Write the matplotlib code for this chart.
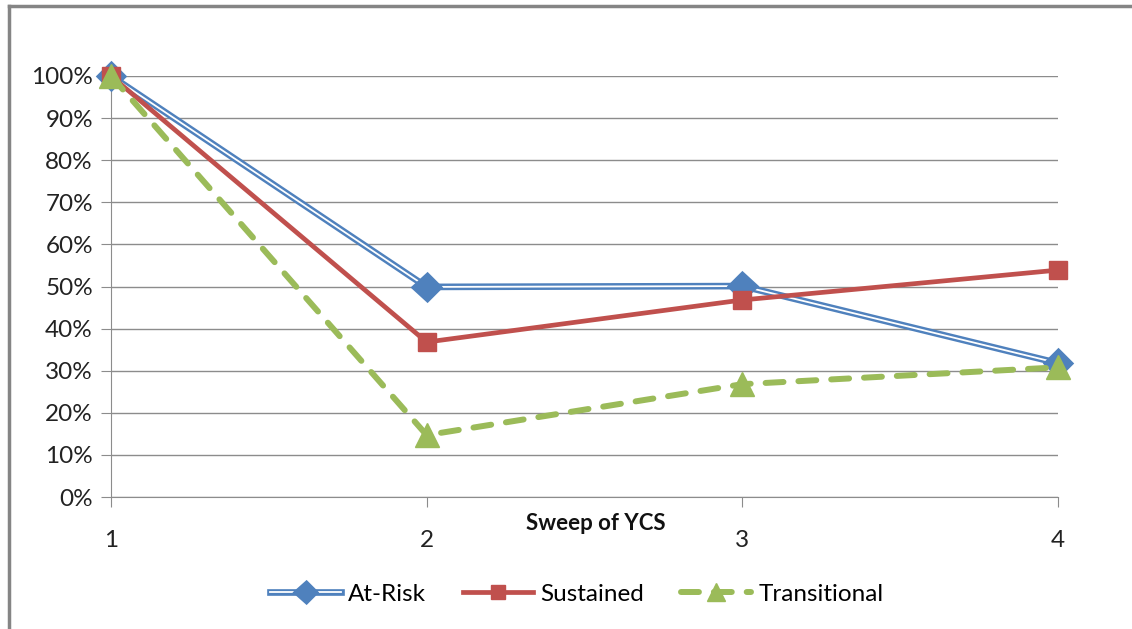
import matplotlib.pyplot as plt
import matplotlib.patheffects as pe
from matplotlib.lines import Line2D
from matplotlib.ticker import PercentFormatter

sweeps = [1, 2, 3, 4]
at_risk = [1.00, 0.499, 0.501, 0.318]
sustained = [1.00, 0.368, 0.468, 0.539]
transitional = [1.00, 0.147, 0.268, 0.308]

blue = '#4F81BD'
red = '#C0504D'
green = '#9BBB59'

plt.rcParams['font.family'] = ['Lato', 'DejaVu Sans']

fig = plt.figure(figsize=(11.32, 6.29), dpi=100)
ax = fig.add_axes([111/1132, 1 - 497/629, (1058 - 111)/1132, (497 - 76)/629])

# chart border (only top/left visible)
fig.add_artist(Line2D([9/1132, 1], [1 - 6/629, 1 - 6/629], color='#858585', lw=2.5,
                      transform=fig.transFigure))
fig.add_artist(Line2D([9/1132, 9/1132], [0, 1 - 6/629], color='#858585', lw=2.5,
                      transform=fig.transFigure))

ax.plot(sweeps, at_risk, color='white', lw=1.3, marker='D', ms=11.5, mfc=blue, mec=blue,
        path_effects=[pe.Stroke(linewidth=4.8, foreground=blue), pe.Normal()],
        label='At-Risk', zorder=3)
ax.plot(sweeps, sustained, color=red, lw=3.4, marker='s', ms=13, mfc=red, mec=red,
        label='Sustained', zorder=4)
ax.plot(sweeps, transitional, color=green, lw=4.3, ls=(0, (3, 2.5)), dash_capstyle='round',
        marker='^', ms=17, mfc=green, mec=green, label='Transitional', zorder=5)

ax.set_xlim(1, 4)
ax.set_ylim(0, 1)
ax.set_xticks(sweeps)
ax.set_yticks([i / 10 for i in range(11)])
ax.yaxis.set_major_formatter(PercentFormatter(1.0, decimals=0))
ax.grid(axis='y', color='#8C8C8C', lw=1)
ax.set_axisbelow(True)
for s in ['top', 'right']:
    ax.spines[s].set_visible(False)
for s in ['left', 'bottom']:
    ax.spines[s].set_color('#8C8C8C')
ax.tick_params(axis='both', colors='#8C8C8C', labelcolor='#222222', labelsize=17.5, length=7)
ax.tick_params(axis='x', pad=17)
ax.tick_params(axis='y', pad=6)
for t in ax.get_lines():
    t.set_clip_on(False)

fig.text(596/1132, 1 - 523/629, 'Sweep of YCS', ha='center', va='center', fontsize=16,
         fontweight='bold', color='#111111')

fig.legend(loc='center', bbox_to_anchor=(577/1132, 1 - 594/629), ncol=3, frameon=False,
           fontsize=17.5, handlelength=2.9, columnspacing=1.5, handletextpad=0.3,
           markerscale=0.75)

fig.savefig('out.png', dpi=100, facecolor='white')
